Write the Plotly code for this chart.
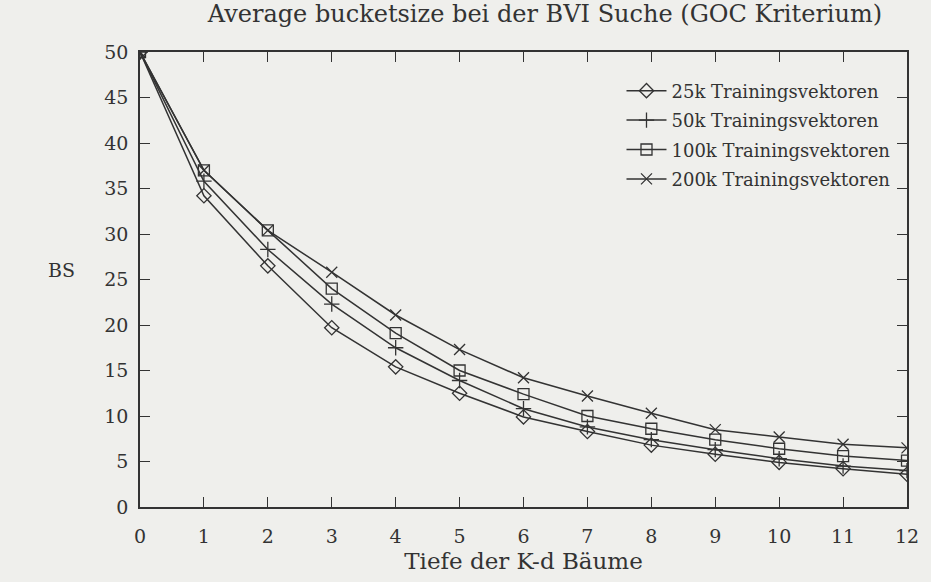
import plotly.graph_objects as go

tiefe = list(range(13))

bs_25k = [50, 34.2, 26.5, 19.7, 15.4, 12.5, 9.9, 8.3, 6.8, 5.8, 4.9, 4.2, 3.6]
bs_50k = [50, 35.8, 28.3, 22.3, 17.5, 13.9, 10.8, 8.8, 7.4, 6.3, 5.3, 4.5, 4.0]
bs_100k = [50, 37.0, 30.4, 24.0, 19.1, 15.0, 12.4, 10.0, 8.6, 7.4, 6.4, 5.6, 5.1]
bs_200k = [50, 37.0, 30.4, 25.8, 21.1, 17.3, 14.2, 12.2, 10.3, 8.5, 7.7, 6.9, 6.5]

namen = ["25k Trainingsvektoren", "50k Trainingsvektoren",
         "100k Trainingsvektoren", "200k Trainingsvektoren"]
reihen = [bs_25k, bs_50k, bs_100k, bs_200k]
symbole = ["diamond-open", "cross-thin-open", "square-open", "x-thin-open"]

ink = "#333333"
font = "DejaVu Serif"

fig = go.Figure()
for name, werte, sym in zip(namen, reihen, symbole):
    fig.add_trace(go.Scatter(
        x=tiefe, y=werte, name=name, legendgroup=name, mode="lines+markers",
        line=dict(color=ink, width=1.5),
        marker=dict(symbol=sym, size=11, color=ink, line=dict(color=ink, width=1.3)),
    ))

axis_common = dict(
    showline=True, mirror="ticks", linecolor=ink, linewidth=1.5,
    ticks="inside", ticklen=10, tickwidth=1.3, tickcolor=ink,
    showgrid=False, zeroline=False, ticklabeloverflow="allow",
    tickfont=dict(family=font, size=19, color=ink),
)

fig.update_xaxes(range=[0, 12], dtick=1, ticklabelstandoff=11,
                 title=dict(text="Tiefe der K-d Bäume", standoff=7,
                            font=dict(family=font, size=23, color=ink)),
                 **axis_common)
fig.update_yaxes(range=[0, 50], dtick=5, ticklabelstandoff=6, **axis_common)

fig.add_annotation(text="BS", xref="paper", yref="paper", x=-0.082, y=0.52,
                   xanchor="right", showarrow=False,
                   font=dict(family=font, size=19, color=ink))

fig.update_layout(
    width=931, height=582,
    margin=dict(l=140, r=15, t=52, b=75),
    paper_bgcolor="#efefec", plot_bgcolor="#efefec",
    title=dict(text="Average bucketsize bei der BVI Suche (GOC Kriterium)",
               x=0.528, xref="paper", xanchor="center", y=0.977, yanchor="middle",
               font=dict(family=font, size=24, color=ink)),
    legend=dict(x=0.985, y=0.955, xanchor="right", yanchor="top",
                bgcolor="rgba(0,0,0,0)", tracegroupgap=3, itemwidth=40,
                font=dict(family=font, size=18, color=ink)),
    showlegend=True,
)

# drop the default 8px body margin so the figure fills the window exactly
fig.write_html("out.html", config={"displayModeBar": False},
               post_script="document.body.style.margin='0';")
